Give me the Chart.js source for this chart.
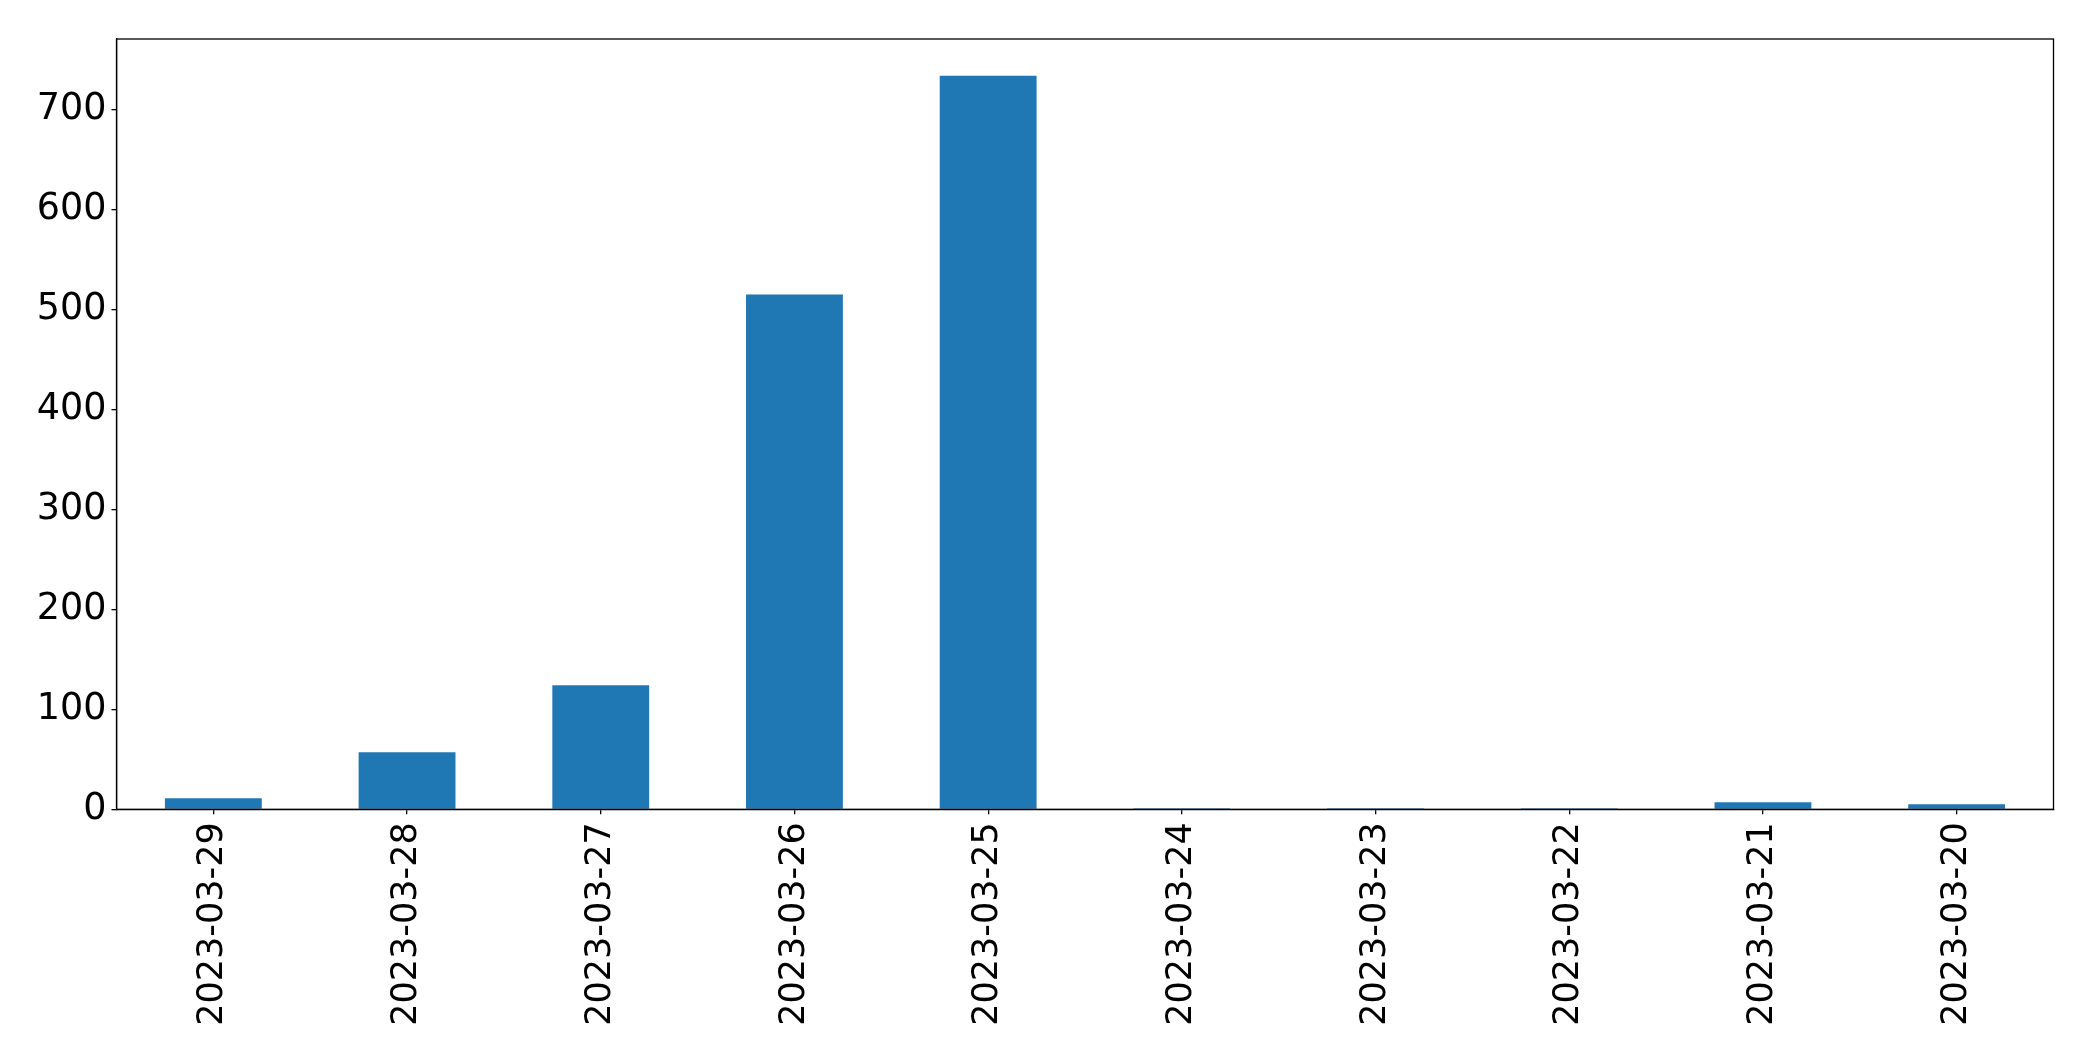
<!DOCTYPE html>
<html>
<head>
<meta charset="utf-8">
<script src="https://cdn.jsdelivr.net/npm/chart.js@4/dist/chart.umd.min.js"></script>
<style>
  html, body { margin: 0; padding: 0; background: #ffffff; }
  #wrap { width: 2093px; height: 1061px; position: relative; }
</style>
</head>
<body>
<div id="wrap"><canvas id="c" width="2093" height="1061"></canvas></div>
<script>
const categories = ["2023-03-29", "2023-03-28", "2023-03-27", "2023-03-26", "2023-03-25",
                    "2023-03-24", "2023-03-23", "2023-03-22", "2023-03-21", "2023-03-20"];
const values = [11, 57, 124, 515, 734, 1, 1, 1, 7, 5];
const yTickValues = [0, 100, 200, 300, 400, 500, 600, 700];

const yMax = Math.max(...values) * 1.05;
const FONT = "'DejaVu Sans', sans-serif";

const frame = {
  id: 'frame',
  afterDraw(chart) {
    const a = chart.chartArea, ctx = chart.ctx;
    ctx.save();
    ctx.strokeStyle = '#000';
    ctx.lineWidth = 1.3;
    ctx.strokeRect(a.left, a.top, a.right - a.left, a.bottom - a.top);
    ctx.restore();
  }
};

new Chart(document.getElementById('c'), {
  type: 'bar',
  data: {
    labels: categories,
    datasets: [{
      data: values,
      backgroundColor: '#1f77b4',
      borderWidth: 0,
      barPercentage: 0.5,
      categoryPercentage: 1.0
    }]
  },
  options: {
    responsive: false,
    animation: false,
    devicePixelRatio: 1,
    layout: { padding: { top: 39, right: 39.5, left: 0, bottom: 0 } },
    plugins: { legend: { display: false }, tooltip: { enabled: false } },
    scales: {
      x: {
        offset: true,
        grid: { display: true, drawOnChartArea: false, drawTicks: true, tickLength: 5, color: '#000', lineWidth: 1.3, offset: false },
        border: { display: true, color: '#000', width: 1.3 },
        ticks: {
          color: '#000',
          font: { family: FONT, size: 35 },
          minRotation: 90, maxRotation: 90,
          autoSkip: false,
          padding: 8
        },
        afterFit(scale) { scale.height = 1061 - 39.3 - 770; }
      },
      y: {
        min: 0,
        max: yMax,
        grid: { display: true, drawOnChartArea: false, drawTicks: true, tickLength: 5, color: '#000', lineWidth: 1.3 },
        border: { display: true, color: '#000', width: 1.3 },
        afterBuildTicks(scale) { scale.ticks = yTickValues.map(v => ({ value: v })); },
        ticks: {
          color: '#000',
          font: { family: FONT, size: 36.5 },
          padding: 5,
          includeBounds: false
        },
        afterFit(scale) { scale.width = 116.5; }
      }
    }
  },
  plugins: [frame]
});
</script>
</body>
</html>
